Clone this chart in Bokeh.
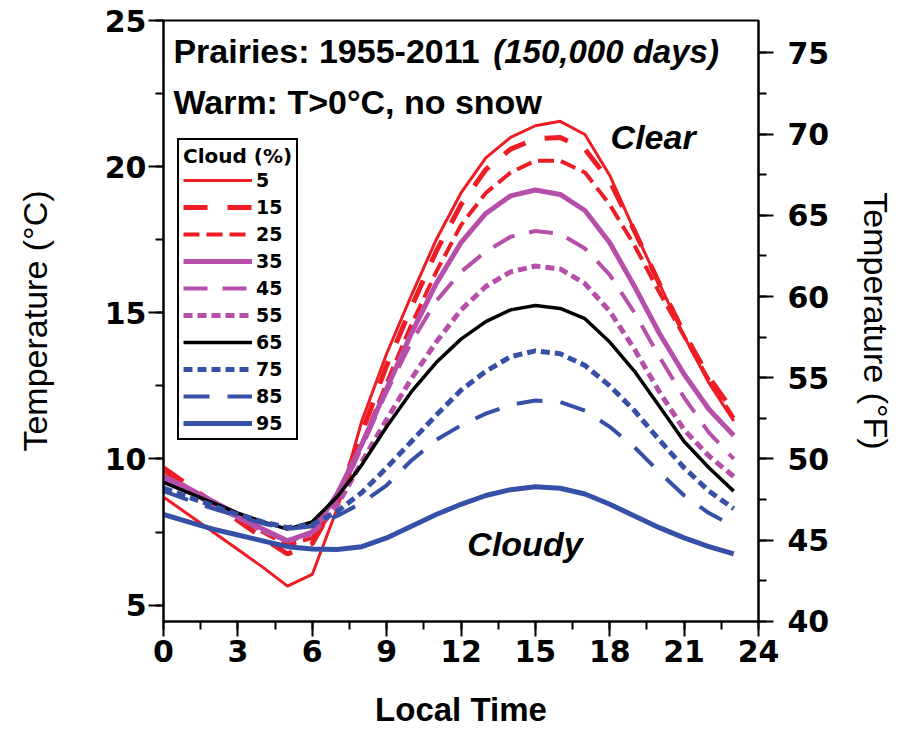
from bokeh.plotting import figure
from bokeh.models import (Range1d, LinearAxis, SingleIntervalTicker, Label, Legend, LegendItem)
from bokeh.embed import file_html
from bokeh.resources import INLINE

hours = list(range(24))
cloud_labels = ["5", "15", "25", "35", "45", "55", "65", "75", "85", "95"]

t05 = [8.7, 8.1, 7.5, 6.9, 6.3, 5.65, 6.05, 8.3, 11.3, 13.6, 15.6, 17.5, 19.1, 20.3, 21.0, 21.4, 21.55, 21.1, 19.7, 17.8, 16.0, 14.2, 12.6, 11.3]
t15 = [9.7, 9.1, 8.5, 7.9, 7.3, 6.75, 7.1, 8.6, 10.9, 13.2, 15.2, 17.1, 18.7, 19.9, 20.6, 20.95, 21.0, 20.6, 19.5, 17.8, 16.0, 14.3, 12.8, 11.6]
t25 = [9.6, 9.0, 8.5, 8.0, 7.5, 7.05, 7.3, 8.4, 10.5, 12.6, 14.6, 16.4, 18.0, 19.1, 19.8, 20.2, 20.2, 19.8, 18.7, 17.3, 15.7, 14.2, 12.7, 11.4]
t35 = [9.4, 9.0, 8.55, 8.1, 7.6, 7.2, 7.5, 8.8, 10.5, 12.4, 14.3, 16.0, 17.4, 18.4, 19.0, 19.2, 19.05, 18.5, 17.4, 15.9, 14.3, 12.9, 11.7, 10.8]
t45 = [9.3, 8.9, 8.45, 8.0, 7.55, 7.2, 7.5, 8.6, 10.4, 12.3, 14.0, 15.4, 16.4, 17.1, 17.6, 17.8, 17.7, 17.2, 16.3, 15.0, 13.5, 12.1, 10.9, 10.0]
t55 = [9.3, 8.9, 8.45, 8.0, 7.55, 7.2, 7.45, 8.4, 9.9, 11.35, 12.75, 14.0, 15.1, 15.9, 16.4, 16.6, 16.5, 16.0, 15.05, 13.75, 12.3, 11.0, 10.1, 9.4]
t65 = [9.2, 8.85, 8.5, 8.15, 7.85, 7.6, 7.85, 8.7, 9.8, 11.1, 12.3, 13.3, 14.1, 14.7, 15.1, 15.25, 15.15, 14.8, 14.0, 13.0, 11.8, 10.6, 9.7, 8.9]
t75 = [9.0, 8.7, 8.4, 8.1, 7.85, 7.65, 7.75, 8.2, 8.85, 9.7, 10.6, 11.5, 12.35, 13.0, 13.5, 13.7, 13.6, 13.2, 12.5, 11.65, 10.65, 9.7, 8.9, 8.3]
t85 = [8.9, 8.6, 8.3, 8.05, 7.8, 7.6, 7.7, 8.05, 8.5, 9.1, 9.95, 10.65, 11.15, 11.55, 11.85, 12.0, 11.95, 11.65, 11.1, 10.4, 9.55, 8.75, 8.15, 7.7]
t95 = [8.1, 7.85, 7.6, 7.4, 7.2, 7.0, 6.92, 6.9, 7.0, 7.3, 7.7, 8.1, 8.45, 8.75, 8.95, 9.05, 9.0, 8.8, 8.45, 8.05, 7.65, 7.3, 7.0, 6.75]

series = [t05, t15, t25, t35, t45, t55, t65, t75, t85, t95]

RED = "#ee1d25"
PUR = "#b64fa9"
BLU = "#3550a6"
styles = [
    (RED, 3, "solid"),
    (RED, 5, "24 20"),
    (RED, 4, "16 7"),
    (PUR, 5, "solid"),
    (PUR, 4, "24 15"),
    (PUR, 5, "9 5"),
    ("black", 3.5, "solid"),
    (BLU, 5, "9 5"),
    (BLU, 4, "26 18"),
    (BLU, 5, "solid"),
]

YMIN, YMAX = 4.44, 25.0

p = figure(width=898, height=730, output_backend="svg", toolbar_location=None,
           x_range=Range1d(0, 24), y_range=Range1d(YMIN, YMAX),
           min_border_left=163, min_border_right=136, min_border_top=20, min_border_bottom=109)
p.extra_y_ranges = {"F": Range1d(YMIN * 1.8 + 32, YMAX * 1.8 + 32)}

p.xgrid.visible = False
p.ygrid.visible = False
p.outline_line_color = "black"
p.outline_line_width = 2
p.outline_line_alpha = 1
p.background_fill_color = "white"
p.border_fill_color = "white"

renderers = []
for data, (c, w, d) in zip(series, styles):
    r = p.line(hours, data, line_color=c, line_width=w, line_dash=d)
    renderers.append(r)

legend = Legend(items=[LegendItem(label=lab, renderers=[r]) for lab, r in zip(cloud_labels, renderers)],
                location=(14, 181))
legend.title = "Cloud (%)"
legend.title_text_font = "DejaVu Sans"
legend.title_text_font_style = "bold"
legend.title_text_font_size = "20px"
legend.title_text_color = "black"
legend.title_standoff = 1
legend.label_text_font = "DejaVu Sans"
legend.label_text_font_style = "bold"
legend.label_text_font_size = "19px"
legend.label_text_color = "black"
legend.label_standoff = 4
legend.glyph_width = 69
legend.glyph_height = 20
legend.label_height = 20
legend.spacing = 5
legend.padding = 4
legend.margin = 0
legend.border_line_color = "black"
legend.border_line_width = 2
legend.border_line_alpha = 1
legend.background_fill_color = "white"
legend.background_fill_alpha = 1
p.add_layout(legend, "center")

TICK_FONT = "DejaVu Sans"

def style_axis(ax, label):
    ax.axis_label = label
    ax.axis_line_width = 2
    ax.major_tick_line_width = 2
    ax.minor_tick_line_width = 2
    ax.major_tick_in = 0
    ax.major_tick_out = 15
    ax.minor_tick_in = 0
    ax.minor_tick_out = 8
    ax.major_label_text_font = TICK_FONT
    ax.major_label_text_font_style = "bold"
    ax.major_label_text_font_size = "30px"
    ax.major_label_text_color = "black"
    ax.axis_label_text_font = "Liberation Sans"
    ax.axis_label_text_font_size = "34px"
    ax.axis_label_text_font_style = "normal"
    ax.axis_label_text_color = "black"

xa = p.xaxis[0]
xa.ticker = SingleIntervalTicker(interval=3, num_minor_ticks=2)
style_axis(xa, "Local Time")
xa.axis_label_text_font_style = "bold"
xa.axis_label_text_font_size = "33px"
xa.major_label_standoff = 3
xa.axis_label_standoff = 26

ya = p.yaxis[0]
ya.ticker = SingleIntervalTicker(interval=5, num_minor_ticks=2)
style_axis(ya, "Temperature (°C)")
ya.major_label_standoff = 2
ya.axis_label_standoff = 48

yr = LinearAxis(y_range_name="F", ticker=SingleIntervalTicker(interval=5, num_minor_ticks=2))
style_axis(yr, "Temperature (°F)")
yr.major_label_standoff = 14
yr.axis_label_standoff = 25
p.add_layout(yr, "right")

TXT = "Liberation Sans"
p.add_layout(Label(x=0.4, y=23.94, text="Prairies: 1955-2011 ", text_font=TXT, text_font_style="bold",
                   text_font_size="34px", text_baseline="middle", text_align="left", text_color="black"))
p.add_layout(Label(x=13.3, y=23.94, text="(150,000 days)", text_font=TXT, text_font_style="bold italic",
                   text_font_size="33px", text_baseline="middle", text_align="left", text_color="black"))
p.add_layout(Label(x=0.4, y=22.2, text="Warm: T>0°C, no snow", text_font=TXT, text_font_style="bold",
                   text_font_size="34px", text_baseline="middle", text_align="left", text_color="black"))
p.add_layout(Label(x=19.75, y=21.03, text="Clear", text_font=TXT, text_font_style="bold italic",
                   text_font_size="34px", text_baseline="middle", text_align="center", text_color="black"))
p.add_layout(Label(x=14.58, y=7.09, text="Cloudy", text_font=TXT, text_font_style="bold italic",
                   text_font_size="34px", text_baseline="middle", text_align="center", text_color="black"))

open("out.html", "w").write(file_html(p, INLINE))
